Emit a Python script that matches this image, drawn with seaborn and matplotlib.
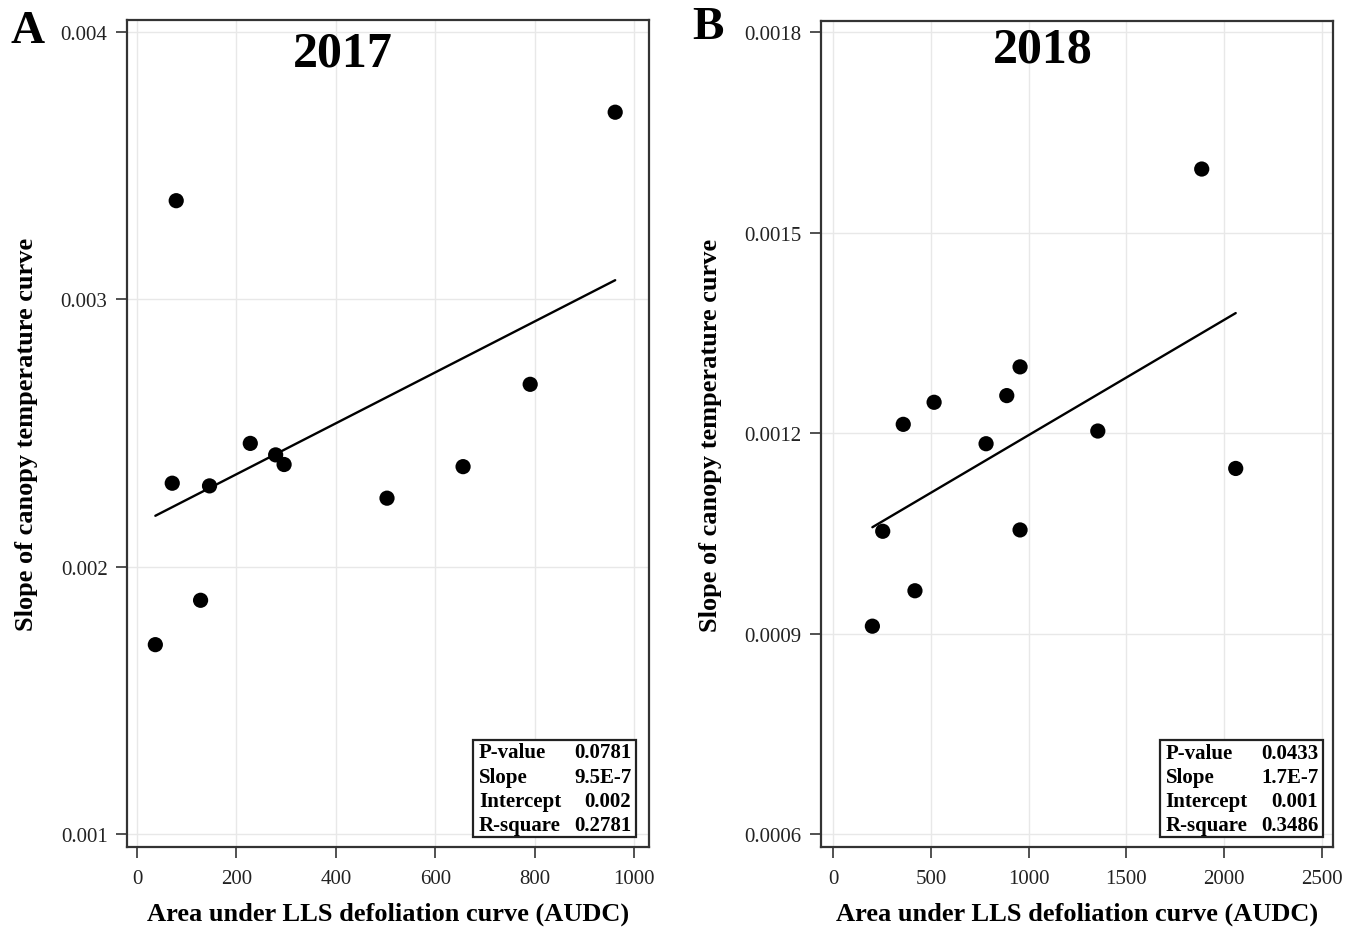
import numpy as np
import pandas as pd
import matplotlib
matplotlib.use("Agg")
import matplotlib.pyplot as plt
import seaborn as sns
from matplotlib.patches import Rectangle

# ---------------- data ----------------
audc_2017 = [37, 79, 71, 128, 146, 228, 279, 296, 503, 656, 791, 962]
slope_2017 = [0.001708, 0.003369, 0.002312, 0.001874, 0.002302, 0.002461,
              0.002418, 0.002382, 0.002256, 0.002374, 0.002682, 0.003700]

audc_2018 = [200, 253, 418, 358, 516, 782, 888, 956, 956, 1354, 1886, 2060]
slope_2018 = [0.000911, 0.001053, 0.000964, 0.001213, 0.001246, 0.001184,
              0.001256, 0.001299, 0.001055, 0.001203, 0.001595, 0.001147]

xticks_2017 = [0, 200, 400, 600, 800, 1000]
yticks_2017 = [0.001, 0.002, 0.003, 0.004]
ytick_labels_2017 = ["0.001", "0.002", "0.003", "0.004"]

xticks_2018 = [0, 500, 1000, 1500, 2000, 2500]
yticks_2018 = [0.0006, 0.0009, 0.0012, 0.0015, 0.0018]
ytick_labels_2018 = ["0.0006", "0.0009", "0.0012", "0.0015", "0.0018"]

stats_labels = ["P-value", "Slope", "Intercept", "R-square"]
stats_2017 = ["0.0781", "9.5E-7", "0.002", "0.2781"]
stats_2018 = ["0.0433", "1.7E-7", "0.001", "0.3486"]

years = ["2017", "2018"]
panel_letters = ["A", "B"]
xlabel = "Area under LLS defoliation curve (AUDC)"
ylabel = "Slope of canopy temperature curve"

# ---------------- style ----------------
sns.set_theme(style="white")
plt.rcParams["font.family"] = ["Liberation Serif", "DejaVu Serif"]

fig = plt.figure(figsize=(13.52, 9.29), dpi=100)
W, H = 1352, 929

def axes_rect(l, r, t, b):
    return [l / W, (H - b) / H, (r - l) / W, (b - t) / H]

axA = fig.add_axes(axes_rect(127, 649, 21, 848))
axB = fig.add_axes(axes_rect(821, 1333, 22, 848))

panels = [
    (axA, audc_2017, slope_2017, xticks_2017, yticks_2017, ytick_labels_2017,
     (-20, 1030), (0.000951, 0.004045), stats_2017, (0.663, 0.975), (0.414, 0.959), -0.17),
    (axB, audc_2018, slope_2018, xticks_2018, yticks_2018, ytick_labels_2018,
     (-63, 2558), (0.0005806, 0.0018165), stats_2018, (0.662, 0.980), (0.434, 0.965), -0.193),
]

for i, (ax, xs, ys, xt, yt, ytl, xlim, ylim, stats, bx, tpos, ylx) in enumerate(panels):
    df = pd.DataFrame({"x": xs, "y": ys})
    sns.regplot(data=df, x="x", y="y", ax=ax, ci=None, color="black",
                scatter_kws=dict(s=120, color="black", edgecolor="none", alpha=1, zorder=3),
                line_kws=dict(color="black", lw=1.7, zorder=2))
    ax.set_xlim(*xlim)
    ax.set_ylim(*ylim)
    ax.set_xticks(xt)
    ax.set_xticklabels([str(v) for v in xt])
    ax.set_yticks(yt)
    ax.set_yticklabels(ytl)
    ax.grid(True, color="#e8e8e8", lw=1.0, zorder=0)
    ax.set_axisbelow(True)
    for sp in ax.spines.values():
        sp.set_color("#333333")
        sp.set_linewidth(1.6)
    ax.tick_params(axis="both", which="major", direction="out", length=8, width=1.2,
                   color="#333333", labelsize=15, labelcolor="#222222",
                   bottom=True, left=True, top=False, right=False, pad=6)
    ax.tick_params(axis="x", pad=8)
    ax.set_xlabel(xlabel, fontsize=19, fontweight="bold", color="black")
    ax.set_ylabel(ylabel, fontsize=19, fontweight="bold", color="black")
    ax.xaxis.set_label_coords(0.5, -0.066)
    ax.yaxis.set_label_coords(ylx, 0.5)

    ax.text(tpos[0], tpos[1], years[i], transform=ax.transAxes, ha="center", va="center",
            fontsize=36, fontweight="bold", color="black")

    # stats box
    y0, y1 = 0.012, 0.129
    ax.add_patch(Rectangle((bx[0], y0), bx[1] - bx[0], y1 - y0, transform=ax.transAxes,
                           fill=True, facecolor="white", edgecolor="#222222", lw=1.6, zorder=5))
    row_h = (y1 - y0) / 4
    for k, (lab, val) in enumerate(zip(stats_labels, stats)):
        yy = y1 - row_h * (k + 0.5)
        ax.text(bx[0] + 0.011, yy, lab, transform=ax.transAxes, ha="left", va="center",
                fontsize=15, fontweight="bold", color="black", zorder=6)
        ax.text(bx[1] - 0.009, yy, val, transform=ax.transAxes, ha="right", va="center",
                fontsize=15, fontweight="bold", color="black", zorder=6)

fig.text(28 / W, 1 - 32 / H, panel_letters[0], ha="center", va="center",
         fontsize=34, fontweight="bold", color="black")
fig.text(708 / W, 1 - 28 / H, panel_letters[1], ha="center", va="center",
         fontsize=34, fontweight="bold", color="black")

fig.savefig("out.png", dpi=100, facecolor="white")
